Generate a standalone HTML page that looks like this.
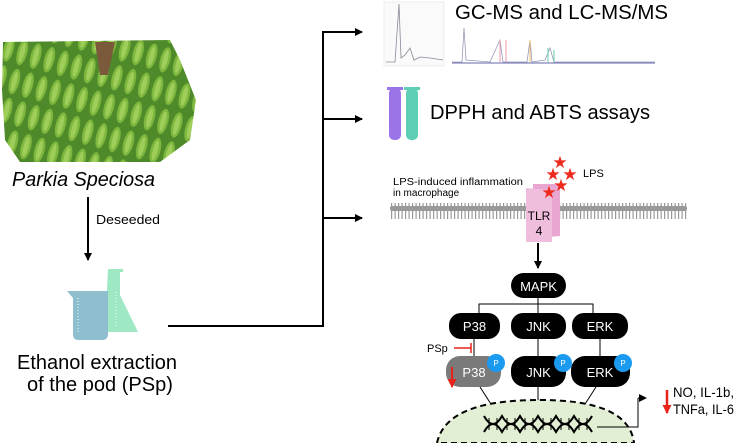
<!DOCTYPE html>
<html><head><meta charset="utf-8"><style>
html,body{margin:0;padding:0;background:#fff;}
svg{display:block;font-family:"Liberation Sans",Arial,sans-serif;}
</style></head><body>
<svg width="736" height="443" viewBox="0 0 736 443">
<defs>
<marker id="ah" markerWidth="8" markerHeight="8" refX="7" refY="4" orient="auto" markerUnits="userSpaceOnUse"><path d="M0,0 L8,4 L0,8z" fill="#000"/></marker>
<marker id="ahr" markerWidth="9" markerHeight="9" refX="8" refY="4.5" orient="auto" markerUnits="userSpaceOnUse"><path d="M0,0 L9,4.5 L0,9z" fill="#e8231a"/></marker>
<pattern id="pods" width="14" height="30" patternUnits="userSpaceOnUse" patternTransform="rotate(15)">
<rect width="14" height="30" fill="#4f8a2a"/><ellipse cx="7" cy="15" rx="5" ry="13" fill="#7fb83e"/><ellipse cx="7" cy="15" rx="2.5" ry="10" fill="#9fcf5a"/>
</pattern>
</defs>
<!-- pods -->
<path d="M3,42 L170,40 L180,60 L196,100 L190,140 L160,162 L20,162 L5,140 L2,90z" fill="url(#pods)"/>
<path d="M95,42 L115,42 L108,75 L100,75z" fill="#7a5a3a"/>
<text x="12" y="186" font-size="20" font-style="italic" textLength="143" lengthAdjust="spacingAndGlyphs">Parkia Speciosa</text>
<line x1="88" y1="197" x2="88" y2="260" stroke="#000" stroke-width="2" marker-end="url(#ah)"/>
<text x="96" y="224" font-size="13" textLength="64" lengthAdjust="spacingAndGlyphs">Deseeded</text>
<!-- flask & beaker -->
<path d="M108,269 L123,269 L123,272 L120,272 L120,295 L138,332 L105,332z" fill="#9fe8c4"/>
<path d="M67,291 L108,291 L108,334 Q108,340 102,340 L78,340 Q73,340 73,334 L73,298z" fill="#8fbfcf"/>
<g stroke="#dff" stroke-width="1"><line x1="78" y1="298" x2="78" y2="334" stroke-dasharray="1 2"/><line x1="116" y1="292" x2="116" y2="326" stroke-dasharray="1 2"/></g>
<text x="17" y="369" font-size="20" textLength="160" lengthAdjust="spacingAndGlyphs">Ethanol extraction</text>
<text x="27" y="391" font-size="20" textLength="146" lengthAdjust="spacingAndGlyphs">of the pod (PSp)</text>
<!-- branches -->
<polyline points="168,326 323,326 323,32" fill="none" stroke="#000" stroke-width="2"/>
<line x1="322" y1="32" x2="362" y2="32" stroke="#000" stroke-width="2" marker-end="url(#ah)"/>
<line x1="322" y1="119" x2="362" y2="119" stroke="#000" stroke-width="2" marker-end="url(#ah)"/>
<line x1="322" y1="218" x2="362" y2="218" stroke="#000" stroke-width="2" marker-end="url(#ah)"/>
<!-- charts -->
<rect x="384" y="2" width="60" height="64" fill="#fafafa" stroke="#ddd" stroke-width="0.5"/>
<polyline points="386,62 395,62 399,4 401,58 405,55 410,48 414,60 420,57 430,58 443,60" fill="none" stroke="#889" stroke-width="0.8"/>
<polyline points="452,62 462,62 464,28 466,60 490,62 500,40 503,62 527,62 530,40 532,62 545,60 550,48 554,62 600,62 655,62" fill="none" stroke="#99b" stroke-width="0.8"/>
<line x1="452" y1="63" x2="655" y2="63" stroke="#66a" stroke-width="1"/>
<line x1="500" y1="62" x2="500" y2="40" stroke="#e9a" stroke-width="1"/><line x1="506" y1="62" x2="506" y2="40" stroke="#e9a" stroke-width="1"/>
<line x1="530" y1="62" x2="530" y2="40" stroke="#eb6" stroke-width="1"/><line x1="548" y1="62" x2="548" y2="48" stroke="#6ca" stroke-width="1"/><line x1="554" y1="62" x2="554" y2="50" stroke="#6ca" stroke-width="1"/>
<text x="455" y="19" font-size="20" textLength="213" lengthAdjust="spacingAndGlyphs">GC-MS and LC-MS/MS</text>
<!-- tubes -->
<rect x="389" y="88" width="12" height="52" rx="5" fill="#9b74e8"/><rect x="387" y="87" width="16" height="3" fill="#9b74e8"/>
<rect x="406" y="88" width="12" height="52" rx="5" fill="#5ecfb5"/><rect x="404" y="87" width="16" height="3" fill="#5ecfb5"/>
<text x="430" y="119" font-size="20" textLength="220" lengthAdjust="spacingAndGlyphs">DPPH and ABTS assays</text>
<!-- membrane -->
<rect x="390" y="206" width="297" height="5" rx="2" fill="#999"/>
<line x1="391" y1="211" x2="687" y2="211" stroke="#999" stroke-width="16" stroke-dasharray="1.2 2.3"/>
<text x="393" y="185" font-size="10" textLength="130" lengthAdjust="spacingAndGlyphs">LPS-induced inflammation</text>
<text x="393" y="196" font-size="10">in macrophage</text>
<path d="M533,184 L560,184 L560,236 L533,238z" fill="#e8a6d0"/>
<path d="M526,188 L552,190 L552,242 L526,242z" fill="#f0bedd"/>
<text x="539" y="220" font-size="12" text-anchor="middle">TLR</text>
<text x="539" y="235" font-size="12" text-anchor="middle">4</text>
<g fill="#ee2a1e" font-size="17" text-anchor="middle">
<text x="560" y="168">★</text><text x="553" y="180">★</text><text x="570" y="180">★</text><text x="561" y="191">★</text><text x="549" y="198">★</text>
</g>
<text x="583" y="177" font-size="11">LPS</text>
<line x1="538" y1="243" x2="538" y2="268" stroke="#000" stroke-width="2" marker-end="url(#ah)"/>
<!-- MAPK -->
<rect x="511" y="273" width="55" height="25" rx="12.5" fill="#000"/>
<text x="538.5" y="291" font-size="13" fill="#fff" text-anchor="middle">MAPK</text>
<g stroke="#000" stroke-width="1" fill="none">
<line x1="538" y1="298" x2="538" y2="313"/>
<polyline points="479,313 479,304 593,304 593,313"/>
<line x1="474" y1="339" x2="474" y2="356"/>
<line x1="538" y1="339" x2="538" y2="356"/>
<line x1="600" y1="339" x2="600" y2="356"/>
<line x1="480" y1="387" x2="498" y2="415"/>
<line x1="538" y1="387" x2="538" y2="415"/>
<line x1="596" y1="387" x2="578" y2="415"/>
</g>
<g fill="#000"><rect x="449" y="313" width="51" height="26" rx="12"/><rect x="511" y="313" width="55" height="26" rx="12"/><rect x="572" y="313" width="56" height="26" rx="12"/>
<rect x="511" y="356" width="55" height="31" rx="14"/><rect x="571" y="356" width="59" height="31" rx="14"/></g>
<rect x="446" y="356" width="55" height="31" rx="14" fill="#7a7a7a"/>
<g font-size="13" fill="#fff" text-anchor="middle">
<text x="474.5" y="331">P38</text><text x="538.5" y="331">JNK</text><text x="600" y="331">ERK</text>
<text x="474" y="377">P38</text><text x="538.5" y="377">JNK</text><text x="600" y="377">ERK</text></g>
<g fill="#1a9bf0"><circle cx="496" cy="363" r="9"/><circle cx="563" cy="363" r="9"/><circle cx="623" cy="363" r="9"/></g>
<g fill="#fff" font-size="8" text-anchor="middle"><text x="496" y="366">P</text><text x="563" y="366">P</text><text x="623" y="366">P</text></g>
<text x="427" y="352" font-size="11">PSp</text>
<line x1="454" y1="348" x2="471" y2="348" stroke="#e8231a" stroke-width="1.5"/>
<line x1="471" y1="343" x2="471" y2="353" stroke="#e8231a" stroke-width="1.5"/>
<line x1="452" y1="367" x2="452" y2="387" stroke="#e8231a" stroke-width="2" marker-end="url(#ahr)"/>
<!-- nucleus -->
<path d="M437,443 C445,405 500,400 540,400 C590,400 630,410 634,443z" fill="#e2efd4" stroke="#000" stroke-width="2" stroke-dasharray="6 4"/>
<g stroke="#000" stroke-width="2" fill="none">
<path d="M484,416 q9,16 18,0 q9,16 18,0 q9,16 18,0 q9,16 18,0 q9,16 18,0 q9,16 18,0"/>
<path d="M484,432 q9,-16 18,0 q9,-16 18,0 q9,-16 18,0 q9,-16 18,0 q9,-16 18,0 q9,-16 18,0"/>
</g>
<g stroke="#000" stroke-width="1"><line x1="489" y1="418" x2="489" y2="430"/><line x1="497" y1="418" x2="497" y2="430"/><line x1="507" y1="418" x2="507" y2="430"/><line x1="515" y1="418" x2="515" y2="430"/><line x1="525" y1="418" x2="525" y2="430"/><line x1="533" y1="418" x2="533" y2="430"/><line x1="543" y1="418" x2="543" y2="430"/><line x1="551" y1="418" x2="551" y2="430"/><line x1="561" y1="418" x2="561" y2="430"/><line x1="569" y1="418" x2="569" y2="430"/><line x1="579" y1="418" x2="579" y2="430"/><line x1="587" y1="418" x2="587" y2="430"/></g>
<polyline points="597,427 638,427 638,398" fill="none" stroke="#000" stroke-width="1"/>
<line x1="638" y1="398" x2="646" y2="398" stroke="#000" stroke-width="1" marker-end="url(#ah)"/>
<line x1="667" y1="390" x2="667" y2="413" stroke="#e8231a" stroke-width="2.5" marker-end="url(#ahr)"/>
<text x="673" y="397" font-size="14" textLength="61" lengthAdjust="spacingAndGlyphs">NO, IL-1b,</text>
<text x="673" y="414" font-size="14" textLength="61" lengthAdjust="spacingAndGlyphs">TNFa, IL-6</text>
</svg>
</body></html>
